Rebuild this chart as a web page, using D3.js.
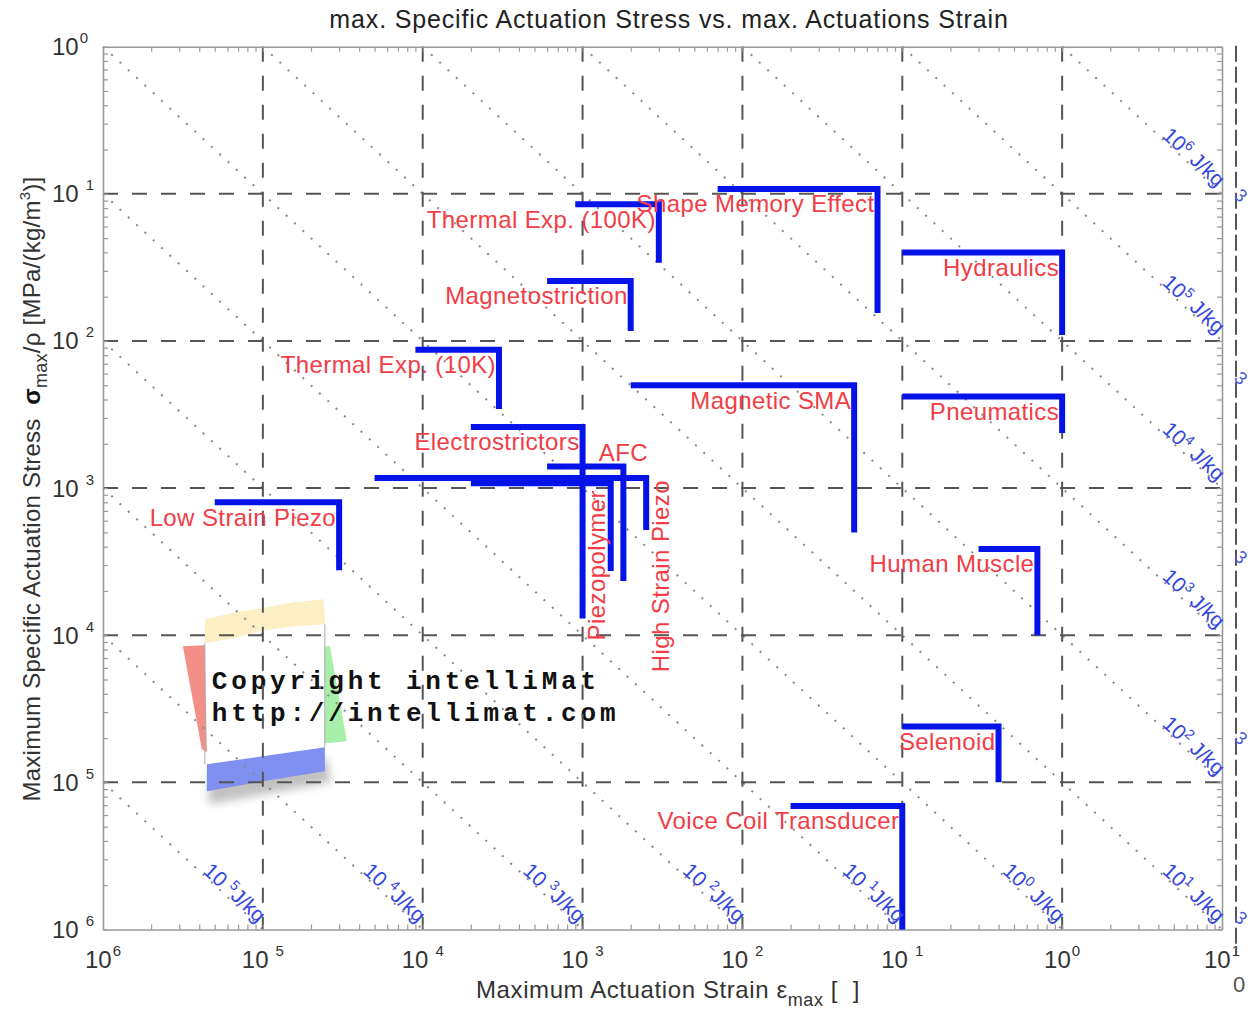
<!DOCTYPE html>
<html>
<head>
<meta charset="utf-8">
<title>Specific actuation stress vs. actuation strain</title>
<script src="https://cdn.jsdelivr.net/npm/d3@7/dist/d3.min.js"></script>
<style>
  html, body { margin: 0; padding: 0; background: #ffffff; }
  svg { display: block; font-family: "Liberation Sans", Arial, Helvetica, sans-serif; }
</style>
</head>
<body>
<svg id="chart" width="1258" height="1012"></svg>
<script>
// ---- actuator families ----
// each family: strain range [epsLo, epsHi] at its peak specific stress sigHi,
// and specific-stress range [sigLo, sigHi] at its peak strain epsHi
const materials = [
  "Thermal Exp. (100K)", "Shape Memory Effect", "Hydraulics", "Magnetostriction",
  "Thermal Exp. (10K)", "Magnetic  SMA", "Pneumatics", "Electrostrictors", "AFC",
  "High Strain Piezo", "Piezopolymer", "Low Strain Piezo", "Human Muscle",
  "Selenoid", "Voice Coil Transducer"
];
const epsLo = [9e-4, 7e-3, 0.1, 6e-4, 9e-5, 2e-3, 0.1, 2e-4, 6e-4, 5e-5, 2e-4, 5e-6, 0.3, 0.1, 0.02];
const epsHi = [3e-3, 0.07, 1.0, 2e-3, 3e-4, 0.05, 1.0, 1e-3, 1.8e-3, 2.5e-3, 1.5e-3, 3e-5, 0.7, 0.4, 0.1];
const sigHi = [0.085, 0.108, 0.04, 0.0256, 8.7e-3, 5e-3, 4.2e-3, 2.6e-3, 1.4e-3, 1.17e-3, 1.08e-3, 8e-4, 3.85e-4, 2.4e-5, 6.9e-6];
const sigLo = [0.034, 0.0155, 0.011, 0.0117, 3.45e-3, 5e-4, 2.37e-3, 1.3e-4, 2.34e-4, 5.2e-4, 2.73e-4, 2.77e-4, 1e-4, 1e-5, 1e-6];
// where each family name sits relative to its corner
const labelSide = ["below", "below", "below", "below", "below", "below", "below", "below",
  "above", "right", "left", "below", "below", "below", "below"];

// iso-energy lines (specific work, exponent of J/kg)
const energyExps = [-5, -4, -3, -2, -1, 0, 1, 2, 3, 4, 5, 6];

// axis decades
const xTickExps = [-6, -5, -4, -3, -2, -1, 0, 1];
const yTickExps = [0, -1, -2, -3, -4, -5, -6];
// small clipped marks along the right border (specific stress where they sit)
const edgeMarks = [0.098, 5.6e-3, 3.4e-4, 2.0e-5, 1.2e-6];

// ---- layout ----
const svg = d3.select("#chart");
const frame = { left: 103, right: 1222, top: 46.7, bottom: 929.5 };
const x = d3.scaleLog().domain([1e-6, 10]).range([frame.left, frame.right]);
const y = d3.scaleLog().domain([1e-6, 1]).range([frame.bottom, frame.top]);

const defs = svg.append("defs");
defs.append("filter").attr("id", "soft").attr("x", "-20%").attr("y", "-50%")
  .attr("width", "140%").attr("height", "200%")
  .append("feGaussianBlur").attr("stdDeviation", 4);

// ---- watermark stamp (coloured paper strips) ----
const stamp = svg.append("g")
  .attr("transform", `translate(${x(1e-5) - 60},${y(1e-4) - 37})`);
stamp.append("polygon").attr("points", "6,178 62,170 124,160 128,184 62,196 6,206")
  .attr("fill", "#777").attr("opacity", 0.45).attr("filter", "url(#soft)");
stamp.append("polygon").attr("points", "2,21 32,14 60,10 90,4 121,1 122,26 92,28 62,32 30,40 2,45").attr("fill", "#fcefc4");
stamp.append("polygon").attr("points", "-20,48 2,47 4,154 -1,151").attr("fill", "#f48e88");
stamp.append("polygon").attr("points", "122,48 127,48 144,143 122,145").attr("fill", "#a6f0aa");
stamp.append("polygon").attr("points", "4,166 60,158 122,149 122,173 60,183 4,193").attr("fill", "#7f90f0");
stamp.append("path").attr("d", "M2,45 V166 M122,26 V149")
  .attr("stroke", "#aaa").attr("stroke-width", 1).attr("fill", "none");

// ---- iso-energy dotted diagonals ----
const lineGen = d3.line().x(d => x(d[0])).y(d => y(d[1]));
const isoG = svg.append("g");
energyExps.forEach(e => {
  const P = Math.pow(10, e - 6);               // MPa·m³/kg
  const e0 = Math.max(P / 1, 1e-6), e1 = Math.min(P / 1e-6, 10);
  isoG.append("path").attr("d", lineGen([[e0, P / e0], [e1, P / e1]]))
    .attr("fill", "none").attr("stroke", "#888").attr("stroke-width", 2)
    .attr("stroke-dasharray", "2 9.3");
});

// ---- dashed decade grid ----
const gridG = svg.append("g").attr("stroke", "#555").attr("stroke-width", 2)
  .attr("stroke-dasharray", "15 14").attr("fill", "none");
xTickExps.filter(e => e > -6 && e < 1).forEach(e => {
  const v = Math.pow(10, e);
  gridG.append("line").attr("x1", x(v)).attr("x2", x(v)).attr("y1", frame.top).attr("y2", frame.bottom);
});
yTickExps.filter(e => e < 0 && e > -6).forEach(e => {
  const v = Math.pow(10, e);
  gridG.append("line").attr("y1", y(v)).attr("y2", y(v)).attr("x1", frame.left).attr("x2", frame.right);
});

// ---- frame with log ticks ----
function logTicks(lo, hi) {
  const t = [];
  for (let k = lo; k < hi; k++) for (let m = 1; m < 10; m++) t.push(m * Math.pow(10, k));
  t.push(Math.pow(10, hi));
  return t;
}
const xt = logTicks(-6, 1), yt = logTicks(-6, 0);
function styleAxis(g) {
  g.select(".domain").attr("stroke", "#9a9a9a").attr("stroke-width", 1.6);
  g.selectAll(".tick line").attr("stroke", "#9a9a9a").attr("stroke-width", 1.2);
}
svg.append("g").attr("transform", `translate(0,${frame.bottom})`)
  .call(d3.axisTop(x).tickValues(xt).tickSize(5).tickSizeOuter(0).tickFormat("")).call(styleAxis);
svg.append("g").attr("transform", `translate(0,${frame.top})`)
  .call(d3.axisBottom(x).tickValues(xt).tickSize(5).tickSizeOuter(0).tickFormat("")).call(styleAxis);
svg.append("g").attr("transform", `translate(${frame.left},0)`)
  .call(d3.axisRight(y).tickValues(yt).tickSize(5).tickSizeOuter(0).tickFormat("")).call(styleAxis);
svg.append("g").attr("transform", `translate(${frame.right},0)`)
  .call(d3.axisLeft(y).tickValues(yt).tickSize(5).tickSizeOuter(0).tickFormat("")).call(styleAxis);

// ---- actuator envelopes ----
const rows = materials.map((name, i) => ({
  name, lo: epsLo[i], hi: epsHi[i], sHi: sigHi[i], sLo: sigLo[i], side: labelSide[i]
}));
svg.append("g").selectAll("path").data(rows).join("path")
  .attr("d", d => `M${x(d.lo)},${y(d.sHi)}H${x(d.hi)}V${y(d.sLo)}`)
  .attr("fill", "none").attr("stroke", "#0613e8").attr("stroke-width", 6)
  .attr("stroke-linejoin", "miter");

// ---- family names ----
const nameG = svg.append("g").attr("fill", "#f23c46").attr("font-size", 24)
  .attr("letter-spacing", 0.4).style("white-space", "pre");
rows.forEach(d => {
  const cx = x(d.hi), cy = y(d.sHi);
  const t = nameG.append("text").text(d.name).attr("dy", "0.35em");
  if (d.side === "below") {
    t.attr("x", cx - 3).attr("y", cy + 15).attr("text-anchor", "end");
  } else if (d.side === "above") {
    t.attr("x", cx).attr("y", cy - 14).attr("text-anchor", "middle");
  } else if (d.side === "left") {
    t.attr("transform", `translate(${cx - 14},${cy + 7}) rotate(-90)`).attr("text-anchor", "end");
  } else {
    t.attr("transform", `translate(${cx + 14},${cy + 2}) rotate(-90)`).attr("text-anchor", "end");
  }
});

// ---- iso-energy labels ----
const decX = x(10) - x(1), decY = y(0.1) - y(1);
const angle = Math.atan2(decY, decX) * 180 / Math.PI;
const eLabG = svg.append("g").attr("fill", "#3346e0").attr("font-size", 21);
energyExps.forEach(e => {
  const P = Math.pow(10, e - 6);
  let bx, by;
  if (P / 1e-6 <= 10) { bx = x(P / 1e-6); by = frame.bottom; }
  else { bx = frame.right; by = y(P / 10); }
  const t = eLabG.append("text")
    .attr("transform", `translate(${bx - 28},${by - 37}) rotate(${angle})`)
    .attr("text-anchor", "middle");
  t.append("tspan").attr("dy", "0.35em").text("10");
  t.append("tspan").attr("font-size", 14).attr("dx", e < 0 ? 6 : 0).attr("dy", -8).text(Math.abs(e));
  t.append("tspan").attr("dy", 8).text(e < 0 ? "J/kg" : "\u00a0J/kg");
});

// ---- watermark text ----
const stampText = stamp.append("g").attr("font-family", "'Liberation Mono', 'Courier New', monospace")
  .attr("font-weight", "bold").attr("font-size", 26).attr("letter-spacing", 3.8).attr("fill", "#111");
stampText.append("text").attr("x", 9).attr("y", 91).text("Copyright intelliMat");
stampText.append("text").attr("x", 9).attr("y", 123).text("http://intellimat.com");

// ---- tick labels ----
const tickG = svg.append("g").attr("fill", "#333").attr("font-size", 24);
xTickExps.forEach(e => {
  const t = tickG.append("text").attr("x", x(Math.pow(10, e))).attr("y", frame.bottom + 38)
    .attr("text-anchor", "middle");
  t.append("tspan").text("10");
  t.append("tspan").attr("font-size", 15).attr("dy", -12)
    .attr("dx", (e < 0 && e > -6) ? 7 : 1).text(Math.abs(e));
});
yTickExps.forEach(e => {
  const t = tickG.append("text").attr("x", 52).attr("y", y(Math.pow(10, e)) + 8.5);
  t.append("tspan").text("10");
  t.append("tspan").attr("font-size", 15).attr("dy", -12)
    .attr("dx", e < 0 ? 7 : 1).text(Math.abs(e));
});

// ---- axis titles ----
const xl = svg.append("text").attr("x", 476).attr("y", 998).attr("fill", "#333")
  .attr("font-size", 24).attr("letter-spacing", 0.6).style("white-space", "pre");
xl.append("tspan").text("Maximum Actuation Strain \u03b5");
xl.append("tspan").attr("font-size", 18).attr("dy", 8).text("max");
xl.append("tspan").attr("dy", -8).text(" [  ]");

const yl = svg.append("text").attr("transform", `translate(40,489) rotate(-90)`)
  .attr("text-anchor", "middle").attr("fill", "#333").attr("font-size", 24)
  .attr("letter-spacing", 0.25).style("white-space", "pre");
yl.append("tspan").text("Maximum Specific Actuation Stress  ");
yl.append("tspan").attr("font-weight", "bold").attr("fill", "#111").text("\u03c3");
yl.append("tspan").attr("font-size", 18).attr("dy", 7).text("max");
yl.append("tspan").attr("dy", -7).text("/\u03c1 [MPa/(kg/m");
yl.append("tspan").attr("font-size", 15).attr("dy", -10).text("3");
yl.append("tspan").attr("dy", 10).text(")]");

// ---- title ----
svg.append("text").attr("x", 669).attr("y", 28).attr("text-anchor", "middle")
  .attr("fill", "#222").attr("font-size", 25).attr("letter-spacing", 0.85)
  .text("max. Specific Actuation Stress vs. max. Actuations Strain");

// ---- clipped overlay along the right border ----
svg.append("line").attr("x1", frame.right + 14).attr("x2", frame.right + 14)
  .attr("y1", frame.top - 1).attr("y2", 955)
  .attr("stroke", "#555").attr("stroke-width", 2).attr("stroke-dasharray", "16 5");
const edgeG = svg.append("g").attr("fill", "#4a5ae0").attr("font-size", 18);
edgeMarks.forEach(s => {
  edgeG.append("text").attr("transform", `translate(${frame.right + 19},${y(s)}) rotate(${angle})`)
    .attr("text-anchor", "middle").attr("dy", "0.35em").text("3");
});
svg.append("text").attr("x", frame.right + 17).attr("y", 992).attr("text-anchor", "middle")
  .attr("fill", "#555").attr("font-size", 22).text("0");
</script>
</body>
</html>
